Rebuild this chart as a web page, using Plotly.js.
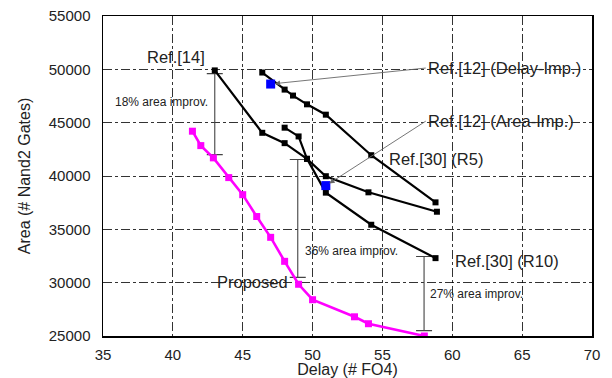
<!DOCTYPE html>
<html>
<head>
<meta charset="utf-8">
<script src="https://cdn.plot.ly/plotly-3.0.1.min.js"></script>
<style>html,body{margin:0;padding:0;background:#fff;}#chart{width:612px;height:378px;}</style>
</head>
<body>
<div id="chart"></div>
<script>
// ---- Data ----
const proposedDelay = [41.4, 42.0, 42.9, 44.0, 45.0, 46.0, 47.0, 48.0, 49.0, 50.0, 53.0, 54.0, 58.0];
const proposedArea  = [44200, 42850, 41700, 39850, 38250, 36200, 34250, 32000, 29850, 28400, 26800, 26150, 25000];

const ref14Delay = [43.0, 46.4, 48.0, 49.6, 50.95, 54.0, 58.9];
const ref14Area  = [49900, 44050, 43080, 41610, 39980, 38470, 36650];

const ref30R5Delay = [46.4, 48.0, 48.6, 49.6, 50.95, 54.2, 58.8];
const ref30R5Area  = [49700, 48100, 47540, 46720, 45750, 41950, 37530];

const ref30R10Delay = [48.0, 49.0, 49.6, 50.95, 54.2, 58.8];
const ref30R10Area  = [44530, 43710, 41610, 38440, 35430, 32300];

const ref12Delay = [47.0, 50.95];
const ref12Area  = [48620, 39100];
const ref12Labels = ['Ref.[12] (Delay-Imp.)', 'Ref.[12] (Area-Imp.)'];

// improvement bars: x, low, high, label
const improvDelay = [43.0, 48.94, 57.98];
const improvLow   = [42000, 30500, 25500];
const improvHigh  = [49600, 41550, 32450];
const improvLabels = ['18% area improv.', '36% area improv.', '27% area improv.'];
const improvLabelX = [35.7, 49.3, 58.25];
const improvLabelY = [46950, 32960, 28900];

const xTitle = 'Delay (# FO4)';
const yTitle = 'Area (# Nand2 Gates)';

const font = 'Liberation Sans, Arial, sans-serif';

function blackLine(x, y, name) {
  return {x: x, y: y, name: name, type: 'scatter', mode: 'lines+markers',
    line: {color: '#000', width: 2.2},
    marker: {symbol: 'square', size: 6, color: '#000'}};
}

const improvMid = improvLow.map((l, i) => (l + improvHigh[i]) / 2);
const improvHalf = improvLow.map((l, i) => (improvHigh[i] - l) / 2);

const traces = [
  {x: improvDelay, y: improvMid, type: 'scatter', mode: 'markers', name: 'improv',
    marker: {size: 1, opacity: 0},
    error_y: {type: 'data', array: improvHalf, symmetric: true, color: '#444', thickness: 1.1, width: 8}},
  blackLine(ref14Delay, ref14Area, 'Ref.[14]'),
  blackLine(ref30R5Delay, ref30R5Area, 'Ref.[30] (R5)'),
  blackLine(ref30R10Delay, ref30R10Area, 'Ref.[30] (R10)'),
  {x: proposedDelay, y: proposedArea, name: 'Proposed', type: 'scatter', mode: 'lines+markers',
    line: {color: '#ff00ff', width: 2.6},
    marker: {symbol: 'square', size: 7, color: '#ff00ff'}},
  {x: ref12Delay, y: ref12Area, name: 'Ref.[12]', type: 'scatter', mode: 'markers',
    marker: {symbol: 'square', size: 9, color: '#0000ff'}}
];

const annotations = [];
function textAnn(text, x, y, size, anchor) {
  annotations.push({text: text, x: x, y: y, xref: 'x', yref: 'y', showarrow: false,
    xanchor: anchor || 'left', yanchor: 'middle', font: {family: font, size: size, color: '#222'}});
}
textAnn('Ref.[14]', 38.0, 51120, 16.5);
textAnn('Ref.[30] (R5)', 55.33, 41640, 16.5);
textAnn('Ref.[30] (R10)', 60.05, 32020, 16.5);
textAnn('Proposed', 43.0, 30050, 16.5);
improvLabels.forEach((t, i) => textAnn(t, improvLabelX[i], improvLabelY[i], 12));

const ref12LabelX = [58.1, 58.1];
const ref12LabelY = [50120, 45140];
ref12Labels.forEach((t, i) => {
  annotations.push({text: t, x: ref12Delay[i], y: ref12Area[i], xref: 'x', yref: 'y',
    ax: ref12LabelX[i], ay: ref12LabelY[i], axref: 'x', ayref: 'y',
    xanchor: 'left', yanchor: 'middle', showarrow: true,
    arrowhead: 2, arrowsize: 1.2, arrowwidth: 0.9, arrowcolor: '#666', standoff: 4,
    font: {family: font, size: 16.5, color: '#222'}});
});

const layout = {
  width: 612, height: 378,
  margin: {l: 103, r: 20, t: 16, b: 42},
  paper_bgcolor: '#fff', plot_bgcolor: '#fff',
  showlegend: false,
  font: {family: font, color: '#222'},
  xaxis: {range: [35, 70], dtick: 5, tick0: 35, showgrid: true, gridcolor: '#000', gridwidth: 0.8,
    griddash: 'dashdot', zeroline: false, showline: true, mirror: true, linecolor: '#000', linewidth: 1.5,
    ticks: '', ticklabelstandoff: 4, tickfont: {family: font, size: 15, color: '#222'},
    title: {text: xTitle, font: {family: font, size: 16, color: '#222'}, standoff: 6}},
  yaxis: {range: [25000, 55000], dtick: 5000, tick0: 25000, tickformat: 'd', showgrid: true, gridcolor: '#000', gridwidth: 0.8,
    griddash: 'dashdot', zeroline: false, showline: true, mirror: true, linecolor: '#000', linewidth: 1.5,
    ticks: '', ticklabelstandoff: 8, tickfont: {family: font, size: 15, color: '#222'},
    title: {text: yTitle, font: {family: font, size: 16, color: '#222'}, standoff: 14}},
  annotations: annotations
};

Plotly.newPlot('chart', traces, layout, {displayModeBar: false, staticPlot: true});
</script>
</body>
</html>
